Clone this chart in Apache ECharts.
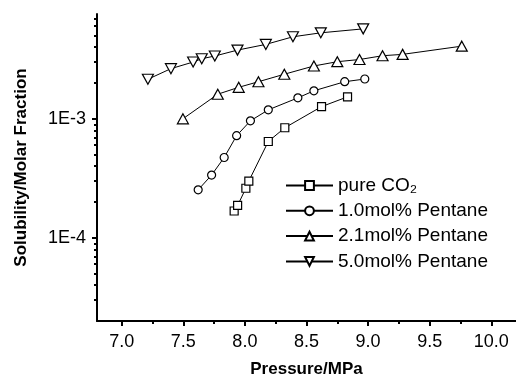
<!DOCTYPE html>
<html>
<head>
<meta charset="utf-8">
<script src="https://cdn.jsdelivr.net/npm/echarts@6/dist/echarts.min.js"></script>
<style>html,body{margin:0;padding:0;background:#fff}#c{width:516px;height:383px}</style>
</head>
<body>
<div id="c"></div>
<script>
// ---- data ----
const seriesNames = ['pure CO\u2082', '1.0mol% Pentane', '2.1mol% Pentane', '5.0mol% Pentane'];

const pressureCO2 = [7.913, 7.941, 8.008, 8.032, 8.19, 8.324, 8.622, 8.833];
const solubilityCO2 = [1.68e-4, 1.87e-4, 2.61e-4, 3.00e-4, 6.45e-4, 8.41e-4, 1.266e-3, 1.53e-3];

const pressureP10 = [7.621, 7.73, 7.832, 7.933, 8.045, 8.19, 8.43, 8.56, 8.81, 8.973];
const solubilityP10 = [2.53e-4, 3.37e-4, 4.73e-4, 7.22e-4, 9.62e-4, 1.19e-3, 1.50e-3, 1.72e-3, 2.05e-3, 2.16e-3];

const pressureP21 = [7.497, 7.78, 7.95, 8.11, 8.32, 8.56, 8.75, 8.93, 9.117, 9.28, 9.76];
const solubilityP21 = [1.0e-3, 1.61e-3, 1.84e-3, 2.05e-3, 2.37e-3, 2.78e-3, 3.02e-3, 3.15e-3, 3.39e-3, 3.48e-3, 4.08e-3];

const pressureP50 = [7.213, 7.40, 7.58, 7.65, 7.756, 7.94, 8.17, 8.39, 8.616, 8.96];
const solubilityP50 = [2.15e-3, 2.64e-3, 3.0e-3, 3.2e-3, 3.37e-3, 3.78e-3, 4.22e-3, 4.89e-3, 5.28e-3, 5.70e-3];

const xMajorTicks = [7.0, 7.5, 8.0, 8.5, 9.0, 9.5, 10.0];
const xMinorTicks = [7.25, 7.75, 8.25, 8.75, 9.25, 9.75];
const yMajorTicks = [1e-4, 1e-3];
const yMinorTicks = [3e-5, 4e-5, 5e-5, 6e-5, 7e-5, 8e-5, 9e-5,
                     2e-4, 3e-4, 4e-4, 5e-4, 6e-4, 7e-4, 8e-4, 9e-4,
                     2e-3, 3e-3, 4e-3, 5e-3, 6e-3, 7e-3];
const xRange = [6.8, 10.2];
const yRange = [2e-5, 7.6e-3];

const FONT = 'Liberation Sans';
const zip = (xs, ys) => xs.map((x, i) => [x, ys[i]]);
const downTri = 'path://M0,0 L10,0 L5,9 Z';

const baseSeries = {
  type: 'line',
  xAxisIndex: 0, yAxisIndex: 0,
  lineStyle: { color: '#000', width: 1 },
  itemStyle: { color: '#fff', borderColor: '#000', borderWidth: 1.2 },
  emphasis: { disabled: true },
  animation: false
};

const chart = echarts.init(document.getElementById('c'), null, { renderer: 'canvas' });
chart.setOption({
  animation: false,
  textStyle: { fontFamily: FONT, color: '#000' },
  grid: { left: 97, right: 0, top: 14, bottom: 59, containLabel: false },
  legend: {
    orient: 'vertical',
    left: 285, top: 176, padding: 0,
    itemWidth: 47, itemHeight: 11, itemGap: 6.3,
    textStyle: { fontFamily: FONT, fontSize: 19, color: '#000' },
    data: seriesNames,
    selectedMode: false
  },
  xAxis: [{
    type: 'value', min: xRange[0], max: xRange[1],
    name: 'Pressure/MPa', nameLocation: 'middle', nameGap: 40,
    nameTextStyle: { fontFamily: FONT, fontSize: 17, fontWeight: 'bold', color: '#000' },
    axisLine: { show: true, lineStyle: { color: '#000', width: 2 } },
    axisTick: { show: true, inside: false, length: 5, lineStyle: { color: '#000', width: 2 }, customValues: xMajorTicks },
    axisLabel: { fontFamily: FONT, fontSize: 18, color: '#000', margin: 12, customValues: xMajorTicks, formatter: v => v.toFixed(1) },
    splitLine: { show: false }
  }, {
    type: 'value', min: xRange[0], max: xRange[1], position: 'bottom',
    axisLine: { show: false },
    axisTick: { show: true, length: 3, lineStyle: { color: '#000', width: 2 }, customValues: xMinorTicks },
    axisLabel: { show: false },
    splitLine: { show: false }
  }],
  yAxis: [{
    type: 'log', logBase: 10, min: yRange[0], max: yRange[1],
    name: 'Solubility/Molar Fraction', nameLocation: 'middle', nameGap: 67, nameRotate: 90,
    nameTextStyle: { fontFamily: FONT, fontSize: 17, fontWeight: 'bold', color: '#000' },
    axisLine: { show: true, lineStyle: { color: '#000', width: 2 } },
    axisTick: { show: true, length: 5, lineStyle: { color: '#000', width: 2 }, customValues: yMajorTicks },
    axisLabel: { fontFamily: FONT, fontSize: 18, color: '#000', margin: 11, customValues: yMajorTicks,
                 formatter: v => '1E' + Math.round(Math.log10(v)) },
    splitLine: { show: false }
  }, {
    type: 'log', logBase: 10, min: yRange[0], max: yRange[1], position: 'left',
    axisLine: { show: false },
    axisTick: { show: true, length: 3, lineStyle: { color: '#000', width: 2 }, customValues: yMinorTicks },
    axisLabel: { show: false },
    splitLine: { show: false }
  }],
  series: [
    Object.assign({}, baseSeries, { name: seriesNames[0], symbol: 'rect', symbolSize: 8, data: zip(pressureCO2, solubilityCO2) }),
    Object.assign({}, baseSeries, { name: seriesNames[1], symbol: 'circle', symbolSize: 8, data: zip(pressureP10, solubilityP10) }),
    Object.assign({}, baseSeries, { name: seriesNames[2], symbol: 'triangle', symbolSize: [11, 10], data: zip(pressureP21, solubilityP21) }),
    Object.assign({}, baseSeries, { name: seriesNames[3], symbol: downTri, symbolSize: [11, 10], data: zip(pressureP50, solubilityP50) })
  ]
});
</script>
</body>
</html>
